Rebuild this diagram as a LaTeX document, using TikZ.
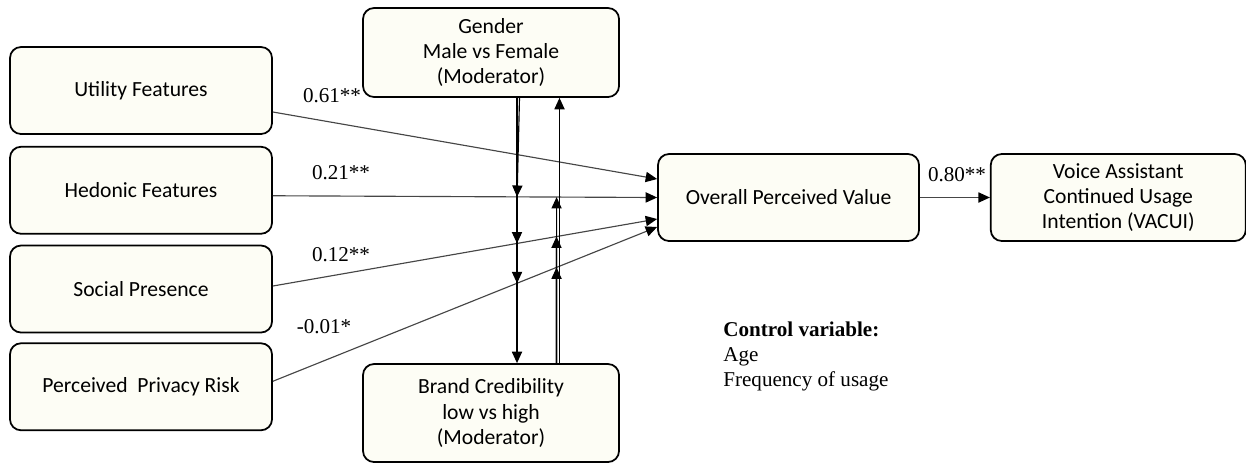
\documentclass[tikz,border=0pt]{standalone}
\usepackage{fontspec}
\setmainfont{Liberation Serif}
\newfontfamily\calfont{Carlito}
\usetikzlibrary{
	arrows.meta,
	positioning
}
\definecolor{boxfill}{RGB}{253,253,245}
\definecolor{linegray}{RGB}{70,70,70}

\begin{document}
\begin{tikzpicture}[
		construct/.style={draw, line width=1pt, rounded corners=0.22cm, fill=boxfill, minimum width=5.24cm, minimum height=1.74cm, align=center, font=\calfont\fontsize{12.3}{14.4}\selectfont},
		moderator/.style={construct, minimum width=5.12cm},
		coef/.style={font=\fontsize{12}{14}\selectfont, inner sep=0pt},
		link/.style={draw=linegray, line width=0.65pt, -{Triangle[length=6.5pt, width=5.8pt, color=black]}},
		modarrow/.style={draw=black, line width=0.65pt, -{Triangle[length=6.5pt, width=5.8pt]}}
		]
		\useasboundingbox (0,0) rectangle (24.92,-9.26);
		
		% =========================
		% Antecedents
		% =========================
		\node[construct] (util) at (2.82,-1.81) {Utility Features};
		\node[construct, below=0.22cm of util] (hed) {Hedonic Features};
		\node[construct, below=0.2cm of hed] (soc) {Social Presence};
		\node[construct, below=0.18cm of soc] (priv) {Perceived~ Privacy Risk};
		
		% =========================
		% Moderators
		% =========================
		\node[moderator, minimum height=1.78cm] (gender) at (9.82,-1.05) {Gender\\Male vs Female\\(Moderator)};
		\node[moderator, minimum height=1.96cm] (brand) at (9.82,-8.26) {Brand Credibility\\low vs high\\(Moderator)};
		
		% =========================
		% Mediator and outcome
		% =========================
		\node[construct, minimum width=5.22cm] (opv) at (15.77,-3.95) {Overall Perceived Value};
		\node[construct, minimum width=5.1cm, right=1.4cm of opv] (vacui) {Voice Assistant\\Continued Usage\\Intention (VACUI)};
		
		% =========================
		% Path ends
		% =========================
		\coordinate (u0) at ([yshift=-0.43cm]util.east);
		\coordinate (h0) at ([yshift=-0.11cm]hed.east);
		\coordinate (s0) at ([yshift=0.06cm]soc.east);
		\coordinate (p0) at ([yshift=0.11cm]priv.east);
		\coordinate (u1) at ([yshift=0.37cm]opv.west);
		\coordinate (h1) at (opv.west);
		\coordinate (s1) at ([yshift=-0.43cm]opv.west);
		\coordinate (p1) at ([yshift=-0.59cm]opv.west);
		
		% =========================
		% Arrows: antecedents -> value -> intention
		% =========================
		\draw[link] (u0) -- (u1);
		\draw[link] (h0) -- (h1);
		\draw[link] (s0) -- (s1);
		\draw[link] (p0) -- (p1);
		\draw[link] (opv) -- (vacui);
		
		% =========================
		% Moderating arrows
		% =========================
		\coordinate (gd) at ([xshift=0.52cm]gender.south);
		\coordinate (bd) at ([xshift=0.52cm]brand.north);
		\coordinate (bu) at ([xshift=1.31cm]brand.north);
		\coordinate (gu) at ([xshift=1.31cm]gender.south);
		\coordinate (bg) at ([xshift=1.37cm]brand.north);
		
		\draw[modarrow] ([xshift=0.05cm]gd) -- (intersection of h0--h1 and gd--bd);
		\draw[modarrow] (gd) -- (intersection of s0--s1 and gd--bd);
		\draw[modarrow] (gd) -- (intersection of p0--p1 and gd--bd);
		\draw[modarrow] (gd) -- (bd);
		
		\draw[modarrow] (bu) -- (intersection of h0--h1 and bu--gu);
		\draw[modarrow] (bu) -- (intersection of s0--s1 and bu--gu);
		\draw[modarrow] (bu) -- (intersection of p0--p1 and bu--gu);
		\draw[modarrow] (bg) -- (gender.south -| bg);
		
		% =========================
		% Coefficients
		% =========================
		\node[coef] (cu) at (6.64,-1.92) {0.61**};
		\node[coef] (ch) at (6.82,-3.46) {0.21**};
		\node[coef] (cs) at (6.82,-5.10) {0.12**};
		\node[coef] (cp) at (6.48,-6.54) {-0.01*};
		\node[coef] (cv) at (19.14,-3.50) {0.80**};
		
		% =========================
		% Controls
		% =========================
		\node[coef, align=left, anchor=north west] (controls) at (14.46,-6.44) {
			\textbf{Control variable:}\\
			Age\\
			Frequency of usage
		};
		
	\end{tikzpicture}
\end{document}
